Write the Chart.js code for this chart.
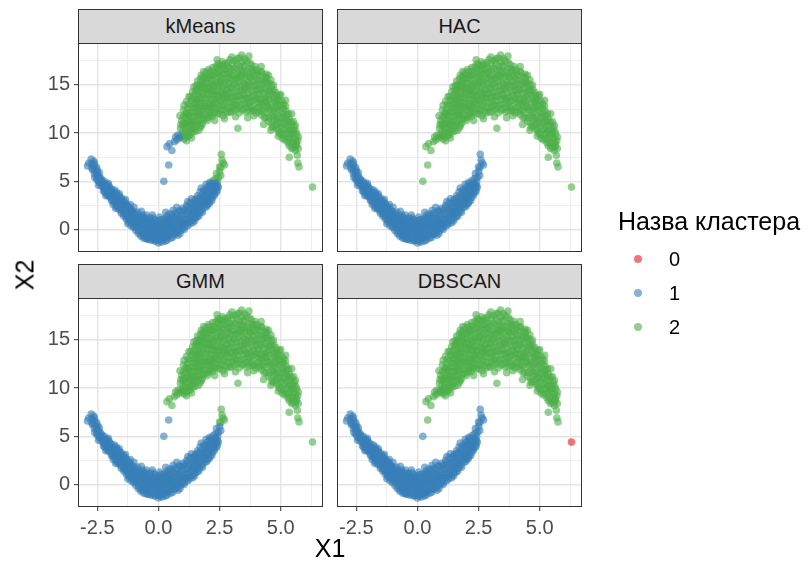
<!DOCTYPE html>
<html>
<head>
<meta charset="utf-8">
<script src="https://cdn.jsdelivr.net/npm/chart.js@4.4.0/dist/chart.umd.min.js"></script>
<style>
  html, body { margin:0; padding:0; background:#fff; }
  body { width:808px; height:564px; position:relative; overflow:hidden; font-family:"Liberation Sans", Arial, sans-serif; }
  canvas { position:absolute; left:0; top:0; }
  .strip { position:absolute; background:#d9d9d9; border:1px solid #333; box-sizing:border-box;
           color:#1a1a1a; font-size:20px; display:flex; align-items:center; justify-content:center; }
  .txt { position:absolute; line-height:1; white-space:nowrap; }
  .dot { position:absolute; width:8px; height:8px; border-radius:50%; transform:translate(-50%,-50%); }
</style>
</head>
<body>
<script>
// ---------------- DATA ----------------
const methodNames = ['kMeans', 'HAC', 'GMM', 'DBSCAN'];
const clusterNames = ['0', '1', '2'];

// lower moon (cluster 1 in every method)
const lowerMoon = [
  [-2.85,6.9],[-2.75,7.3],[-2.65,7.1],[-2.9,6.6],[-2.7,6.2],[-2.6,6.6],[-2.55,5.9],[-2.6,5.4],[-2.5,6.1],[-2.45,5.6],[-2.5,5.1],[-2.4,4.8],[-2.35,5.3],[-2.45,4.6],
  [-2.3,4.9],[-2.25,4.4],[-2.2,4.7],[-2.2,3.9],[-2.15,4.2],[-2.1,4.5],[-2.1,3.6],[-2.05,3.9],[-2.0,4.3],[-2.0,3.4],[-1.95,3.7],[-2.25,4.0],[-2.15,3.5],[-2.05,4.8],
  [-1.9,3.1],[-1.9,3.9],[-1.85,3.5],[-1.8,2.8],[-1.8,4.1],[-1.75,3.2],[-1.7,2.5],[-1.7,3.6],[-1.65,2.9],[-1.6,2.2],[-1.6,3.3],[-1.55,2.6],[-1.5,1.9],[-1.5,3.0],[-1.45,2.4],[-1.85,2.6],[-1.6,3.7],[-1.75,2.2],
  [-1.4,1.6],[-1.4,2.8],[-1.35,2.1],[-1.3,1.3],[-1.3,2.5],[-1.25,1.8],[-1.2,1.0],[-1.2,2.2],[-1.15,1.5],[-1.1,0.7],[-1.1,1.9],[-1.05,1.2],[-1.0,0.4],[-1.0,1.6],[-0.95,0.9],[-1.35,3.1],[-1.15,2.6],[-1.25,0.6],[-1.0,2.3],
  [-0.9,0.2],[-0.9,1.3],[-0.85,0.7],[-0.8,-0.2],[-0.8,1.0],[-0.75,0.4],[-0.7,-0.5],[-0.7,0.8],[-0.65,1.5],[-0.6,0.1],[-0.6,1.1],[-0.55,-0.6],[-0.55,0.5],[-0.5,-0.2],[-0.5,0.9],[-0.85,1.8],[-0.7,1.9],[-0.6,-0.9],[-0.5,1.5],
  [-0.45,0.2],[-0.4,-0.8],[-0.4,0.6],[-0.35,-0.3],[-0.35,1.2],[-0.3,0.1],[-0.3,-1.1],[-0.25,0.8],[-0.2,-0.5],[-0.2,0.4],[-0.15,-1.2],[-0.15,1.0],[-0.1,-0.1],[-0.1,-0.8],[-0.05,0.5],[0.0,-1.4],[0.0,0.1],[0.0,-0.5],[0.05,1.3],[0.05,-1.0],[-0.25,1.5],[-0.45,-1.0],
  [0.1,-0.2],[0.1,0.7],[0.15,-1.3],[0.15,-0.6],[0.2,0.3],[0.2,1.1],[0.25,-0.9],[0.25,0.0],[0.3,-0.4],[0.3,0.8],[0.35,-1.1],[0.35,1.4],[0.4,0.2],[0.4,-0.6],[0.45,0.6],[0.5,-0.2],[0.5,1.0],[0.5,-0.9],[0.3,1.8],[0.45,1.6],
  [0.55,0.3],[0.6,-0.5],[0.6,1.3],[0.65,0.1],[0.65,0.8],[0.7,-0.3],[0.7,1.7],[0.75,0.5],[0.8,-0.6],[0.8,1.1],[0.85,0.2],[0.85,1.9],[0.9,0.7],[0.9,-0.1],[0.95,1.4],[1.0,0.4],[1.0,2.2],[1.0,1.0],[0.75,2.3],[0.6,2.0],
  [1.05,0.0],[1.1,1.6],[1.1,0.7],[1.15,2.5],[1.2,0.4],[1.2,1.2],[1.25,2.0],[1.3,0.9],[1.3,2.8],[1.35,1.5],[1.4,0.7],[1.4,2.3],[1.45,1.9],[1.5,1.2],[1.5,3.1],[1.5,2.5],[1.2,2.9],[1.35,3.2],
  [1.55,1.6],[1.6,2.2],[1.6,3.5],[1.65,1.4],[1.65,2.8],[1.7,2.0],[1.7,3.9],[1.75,2.5],[1.8,3.2],[1.8,1.8],[1.85,2.9],[1.85,4.1],[1.9,2.3],[1.9,3.6],[1.95,3.0],[2.0,2.6],[2.0,4.4],[2.0,3.8],[1.75,4.3],[1.95,4.7],
  [2.05,3.2],[2.1,4.1],[2.1,2.9],[2.15,3.6],[2.15,4.8],[2.2,3.3],[2.2,4.4],[2.25,3.9],[2.3,4.3],[2.3,3.7],[2.35,4.8],[2.4,4.1],[2.4,4.6],[2.1,4.9],[2.45,4.4],
  [-2.72,6.4],[-2.72,6.8],[-2.62,5.8],[-2.62,6.3],[-2.62,6.9],[-2.52,5.3],[-2.52,5.8],[-2.52,6.4],[-2.42,4.9],[-2.42,5.4],[-2.42,5.9],[-2.32,4.5],[-2.32,5.1],
  [-2.22,4.2],[-2.22,4.6],[-2.22,5.0],[-2.12,3.8],[-2.12,4.3],[-2.12,4.7],[-2.02,3.5],[-2.02,4.0],[-2.02,4.5],[-1.92,3.0],[-1.92,3.4],[-1.92,3.8],[-1.92,4.2],
  [-1.82,2.9],[-1.82,3.3],[-1.82,3.8],[-1.72,2.4],[-1.72,2.9],[-1.72,3.4],[-1.72,3.9],[-1.62,2.1],[-1.62,2.6],[-1.62,3.0],[-1.62,3.5],[-1.52,1.7],[-1.52,2.2],[-1.52,2.7],[-1.52,3.3],
  [-1.42,1.4],[-1.42,1.9],[-1.42,2.5],[-1.42,3.0],[-1.32,1.1],[-1.32,1.6],[-1.32,2.1],[-1.32,2.7],[-1.22,0.8],[-1.22,1.3],[-1.22,1.9],[-1.22,2.4],[-1.12,0.4],[-1.12,1.0],[-1.12,1.6],[-1.12,2.1],
  [-1.02,0.2],[-1.02,0.8],[-1.02,1.4],[-1.02,1.9],[-0.92,-0.1],[-0.92,0.5],[-0.92,1.1],[-0.92,1.6],[-0.82,-0.4],[-0.82,0.3],[-0.82,0.9],[-0.82,1.4],[-0.72,-0.7],[-0.72,0.0],[-0.72,0.6],[-0.72,1.2],
  [-0.62,-0.6],[-0.62,-0.2],[-0.62,0.4],[-0.62,0.9],[-0.62,1.3],[-0.52,-0.9],[-0.52,-0.4],[-0.52,0.2],[-0.52,0.7],[-0.52,1.2],[-0.42,-1.0],[-0.42,-0.5],[-0.42,0.0],[-0.42,0.5],[-0.42,1.0],
  [-0.32,-0.8],[-0.32,-0.3],[-0.32,0.3],[-0.32,0.8],[-0.22,-1.0],[-0.22,-0.2],[-0.22,0.2],[-0.22,1.2],[-0.12,-1.1],[-0.12,-0.4],[-0.12,0.3],[-0.12,0.7],
  [-0.02,-1.1],[-0.02,-0.8],[-0.02,-0.2],[-0.02,0.4],[-0.02,0.9],[0.08,-1.2],[0.08,-0.4],[0.08,0.3],[0.08,1.0],[0.18,-0.9],[0.18,-0.1],[0.18,0.6],
  [0.28,-1.2],[0.28,-0.6],[0.28,0.4],[0.28,1.1],[0.38,-0.8],[0.38,0.0],[0.38,0.7],[0.38,1.1],[0.48,-0.5],[0.48,0.3],[0.48,1.3],[0.58,-0.8],[0.58,0.0],[0.58,0.6],[0.58,1.6],
  [0.68,-0.5],[0.68,0.3],[0.68,1.1],[0.78,-0.2],[0.78,0.8],[0.78,1.5],[0.88,-0.4],[0.88,0.5],[0.88,1.2],[0.88,2.0],[0.98,0.1],[0.98,0.7],[0.98,1.8],
  [1.08,0.3],[1.08,1.0],[1.08,2.0],[1.18,0.7],[1.18,1.6],[1.18,2.3],[1.28,0.6],[1.28,1.3],[1.28,2.2],[1.38,1.0],[1.38,1.8],[1.38,2.7],[1.48,0.9],[1.48,1.6],[1.48,2.1],[1.48,2.9],
  [1.58,1.3],[1.58,1.9],[1.58,2.7],[1.58,3.2],[1.68,1.7],[1.68,2.4],[1.68,3.3],[1.78,2.0],[1.78,2.8],[1.78,3.6],[1.88,2.6],[1.88,3.3],[1.88,4.0],[1.98,2.4],[1.98,3.3],[1.98,4.1],
  [2.08,2.7],[2.08,3.5],[2.08,4.5],[2.18,3.0],[2.18,3.9],[2.18,4.6],[2.28,3.5],[2.28,4.0],[2.28,4.7],[2.38,3.9],[2.38,4.4]
];

// upper moon (cluster 2 in every method)
const upperMoon = [
  [0.95,9.6],[1.0,10.3],[1.0,11.0],[1.05,9.4],[1.05,10.8],[1.1,11.6],[1.1,10.0],[1.15,12.2],[1.15,9.2],[1.2,10.6],[1.2,11.3],[1.2,12.6],[0.9,10.5],[0.95,11.3],[0.88,11.8],[1.05,12.9],[1.15,13.3],[1.25,13.8],
  [1.25,10.1],[1.25,11.8],[1.3,12.9],[1.3,10.9],[1.3,9.8],[1.35,11.5],[1.35,13.4],[1.4,12.2],[1.4,10.4],[1.45,13.0],[1.45,11.1],[1.5,12.6],[1.5,14.0],[1.5,10.6],[1.4,14.3],[1.35,9.5],[1.45,14.8],
  [1.55,11.8],[1.55,13.5],[1.6,10.9],[1.6,12.9],[1.6,14.6],[1.65,12.1],[1.65,13.9],[1.7,11.4],[1.7,13.2],[1.7,15.0],[1.75,12.5],[1.75,14.3],[1.8,11.0],[1.8,13.7],[1.8,15.3],[1.65,10.3],[1.75,10.8],[1.6,15.4],[1.75,16.0],[1.55,14.9],
  [1.85,12.0],[1.85,14.8],[1.9,13.1],[1.9,15.6],[1.9,11.5],[1.95,12.6],[1.95,14.2],[2.0,13.6],[2.0,15.2],[2.0,11.3],[2.05,12.4],[2.05,14.7],[2.1,13.0],[2.1,16.0],[2.1,11.8],[1.95,16.3],[2.05,16.6],[1.85,16.4],
  [2.15,12.3],[2.15,14.1],[2.2,15.5],[2.2,13.4],[2.2,11.7],[2.25,12.8],[2.25,14.8],[2.25,16.4],[2.3,13.9],[2.3,12.1],[2.35,15.2],[2.35,13.2],[2.35,16.9],[2.4,14.4],[2.4,12.5],[2.45,15.8],[2.45,13.7],[2.5,12.0],[2.5,14.9],[2.5,16.5],[2.4,17.6],[2.3,11.3],[2.45,17.2],
  [2.55,13.1],[2.55,15.4],[2.6,12.4],[2.6,14.2],[2.6,16.2],[2.65,13.6],[2.65,17.0],[2.65,11.8],[2.7,15.0],[2.7,12.9],[2.75,14.5],[2.75,16.6],[2.8,13.3],[2.8,12.1],[2.8,15.7],[2.85,14.0],[2.85,17.3],[2.9,12.6],[2.9,15.2],[2.9,16.3],[2.95,13.7],[2.95,14.7],[3.0,12.2],[3.0,16.0],[3.0,17.9],[2.7,11.5],
  [3.05,13.2],[3.05,15.0],[3.1,14.2],[3.1,16.7],[3.1,12.4],[3.15,13.8],[3.15,15.6],[3.2,12.9],[3.2,17.2],[3.2,14.8],[3.25,16.1],[3.25,13.4],[3.3,12.1],[3.3,15.3],[3.3,17.8],[3.35,14.5],[3.35,16.5],[3.4,13.0],[3.4,15.9],[3.45,14.0],[3.45,17.0],[3.5,12.5],[3.5,15.1],[3.5,16.3],[3.25,10.5],[3.4,18.1],[3.15,11.7],
  [3.55,13.6],[3.55,14.7],[3.6,12.2],[3.6,16.0],[3.6,17.5],[3.65,13.2],[3.65,15.3],[3.7,14.2],[3.7,16.7],[3.7,18.0],[3.75,12.7],[3.75,15.8],[3.8,13.8],[3.8,14.9],[3.8,17.1],[3.85,12.3],[3.85,16.3],[3.9,13.4],[3.9,15.4],[3.95,14.4],[3.95,16.9],[4.0,12.1],[4.0,15.0],[4.0,13.2],[3.65,11.6],[3.9,11.8],
  [4.05,14.0],[4.05,16.2],[4.1,12.7],[4.1,15.5],[4.15,13.5],[4.15,14.6],[4.2,11.9],[4.2,16.4],[4.25,13.0],[4.25,15.1],[4.3,14.1],[4.3,12.3],[4.35,15.8],[4.35,13.6],[4.4,11.6],[4.4,14.6],[4.2,16.9],[4.3,10.9],[4.4,16.1],
  [4.45,12.8],[4.45,15.1],[4.5,13.9],[4.5,11.2],[4.55,14.5],[4.55,12.4],[4.6,15.5],[4.6,13.2],[4.65,10.6],[4.65,14.0],[4.7,12.0],[4.7,15.0],[4.75,13.3],[4.75,11.3],[4.6,10.3],[4.5,16.0],
  [4.8,12.7],[4.8,14.2],[4.85,10.4],[4.85,13.5],[4.9,11.6],[4.9,12.9],[4.95,13.9],[4.95,10.0],[5.0,12.2],[5.0,11.0],[5.05,13.3],[5.05,9.5],[4.9,9.7],[5.0,14.0],
  [5.1,11.7],[5.1,12.6],[5.15,10.4],[5.15,9.3],[5.2,11.2],[5.2,12.8],[5.25,10.0],[5.25,11.9],[5.3,9.0],[5.3,10.8],[5.35,11.5],[5.35,8.7],
  [5.4,10.3],[5.4,9.6],[5.45,11.1],[5.45,8.4],[5.5,10.0],[5.5,9.0],[5.55,10.6],[5.6,9.4],[5.6,8.2],[5.65,9.9],[5.65,8.8],[5.7,9.2],[5.35,7.5],[5.7,6.9],[5.75,6.5],[5.6,10.8],[5.2,13.4],[5.45,12.0],
  [0.92,9.8],[0.92,10.9],[1.02,9.8],[1.02,11.7],[1.02,12.4],[1.12,9.6],[1.12,10.4],[1.12,11.0],[1.12,12.0],[1.22,9.7],[1.22,11.0],[1.22,12.0],[1.22,13.0],
  [1.32,10.3],[1.32,11.2],[1.32,12.2],[1.32,13.8],[1.42,10.1],[1.42,10.8],[1.42,11.7],[1.42,12.6],[1.42,13.6],[1.52,10.2],[1.52,11.3],[1.52,12.2],[1.52,13.2],[1.52,14.4],
  [1.62,11.2],[1.62,11.9],[1.62,12.6],[1.62,13.5],[1.62,14.2],[1.62,15.0],[1.72,10.6],[1.72,11.8],[1.72,12.8],[1.72,13.6],[1.72,14.7],[1.72,15.6],
  [1.82,11.4],[1.82,12.3],[1.82,13.0],[1.82,14.1],[1.82,15.0],[1.82,15.8],[1.92,11.9],[1.92,12.8],[1.92,13.6],[1.92,14.5],[1.92,15.2],[1.92,16.0],
  [2.02,11.6],[2.02,12.8],[2.02,14.0],[2.02,14.6],[2.02,15.7],[2.12,12.0],[2.12,12.7],[2.12,13.5],[2.12,14.4],[2.12,15.1],[2.12,15.8],[2.12,16.4],
  [2.22,12.1],[2.22,13.0],[2.22,14.0],[2.22,14.5],[2.22,15.0],[2.22,16.0],[2.22,16.8],[2.32,12.6],[2.32,13.5],[2.32,14.3],[2.32,15.6],[2.32,16.2],
  [2.42,12.0],[2.42,13.0],[2.42,13.9],[2.42,15.0],[2.42,16.2],[2.42,16.8],[2.52,12.4],[2.52,13.4],[2.52,14.3],[2.52,15.2],[2.52,15.9],[2.52,17.0],
  [2.62,12.9],[2.62,13.9],[2.62,14.7],[2.62,15.6],[2.62,16.6],[2.62,17.4],[2.72,12.3],[2.72,13.7],[2.72,14.1],[2.72,15.4],[2.72,16.2],[2.72,17.2],
  [2.82,12.7],[2.82,13.6],[2.82,14.5],[2.82,15.1],[2.82,16.1],[2.82,16.9],[2.92,12.2],[2.92,13.2],[2.92,14.2],[2.92,15.7],[2.92,16.7],[2.92,17.6],
  [3.02,12.7],[3.02,13.8],[3.02,14.6],[3.02,15.5],[3.02,16.5],[3.02,17.2],[3.12,13.0],[3.12,13.4],[3.12,15.1],[3.12,15.9],[3.12,17.5],
  [3.22,12.5],[3.22,13.9],[3.22,14.3],[3.22,15.7],[3.22,16.6],[3.22,17.7],[3.32,12.8],[3.32,13.8],[3.32,14.9],[3.32,16.0],[3.32,16.9],
  [3.42,12.4],[3.42,13.5],[3.42,14.4],[3.42,15.4],[3.42,16.2],[3.42,17.4],[3.52,13.0],[3.52,13.9],[3.52,14.6],[3.52,15.7],[3.52,16.9],[3.52,17.7],
  [3.62,12.7],[3.62,13.6],[3.62,14.5],[3.62,15.0],[3.62,16.4],[3.72,12.3],[3.72,13.1],[3.72,13.7],[3.72,15.1],[3.72,15.9],[3.72,17.3],
  [3.82,12.6],[3.82,13.3],[3.82,14.4],[3.82,15.7],[3.82,16.6],[3.92,12.4],[3.92,13.9],[3.92,14.9],[3.92,16.0],[3.92,16.5],
  [4.02,12.6],[4.02,13.6],[4.02,14.5],[4.02,15.6],[4.02,16.6],[4.12,12.2],[4.12,13.1],[4.12,14.0],[4.12,15.0],[4.12,16.0],
  [4.22,12.4],[4.22,13.5],[4.22,14.4],[4.22,15.5],[4.22,16.3],[4.32,11.6],[4.32,12.8],[4.32,13.2],[4.32,14.6],[4.32,15.3],
  [4.42,12.2],[4.42,13.2],[4.42,13.8],[4.42,15.3],[4.42,15.8],[4.52,11.6],[4.52,12.6],[4.52,13.5],[4.52,14.3],[4.52,15.2],
  [4.62,11.0],[4.62,11.8],[4.62,12.7],[4.62,14.4],[4.62,14.9],[4.72,10.7],[4.72,11.7],[4.72,12.5],[4.72,13.7],[4.72,14.5],
  [4.82,10.9],[4.82,11.5],[4.82,12.2],[4.82,13.1],[4.82,13.9],[4.92,10.3],[4.92,11.1],[4.92,12.4],[4.92,13.4],
  [5.02,9.9],[5.02,10.6],[5.02,11.6],[5.02,12.8],[5.12,9.8],[5.12,11.0],[5.12,12.0],[5.12,13.0],[5.22,9.4],[5.22,10.5],[5.22,11.5],[5.22,12.3],
  [5.32,9.5],[5.32,10.2],[5.32,11.2],[5.32,12.0],[5.42,8.9],[5.42,9.9],[5.42,10.8],[5.52,8.5],[5.52,9.5],[5.52,10.3],[5.52,11.2],
  [5.62,8.6],[5.62,9.0],[5.62,10.2],[5.72,8.4],[5.72,9.6],[5.68,7.7]
];

// points whose cluster differs between methods
const tipHigh   = [[2.57,7.8],[2.7,6.7],[2.6,7.2],[2.5,6.5],[2.65,6.9],[2.55,6.4]];
const tipLow    = [[2.37,5.8],[2.42,5.0],[2.45,5.4],[2.5,6.0],[2.35,5.3],[2.25,5.1],[2.55,5.6]];
const foot      = [[0.35,8.6],[0.45,8.9],[0.55,8.2],[0.65,9.1],[0.7,9.6],[0.8,9.8],[0.75,9.3],[0.85,9.5]];
const bridgeMid = [[0.42,6.7]];
const bridgeLow = [[0.22,5.0]];
const outlier   = [[6.3,4.4]];

const groupNames = ['lowerMoon','upperMoon','tipHigh','tipLow','foot','bridgeMid','bridgeLow','outlier'];
const groups     = [lowerMoon, upperMoon, tipHigh, tipLow, foot, bridgeMid, bridgeLow, outlier];
const kMeansLabels = [1, 2, 2, 2, 1, 1, 1, 2];
const hacLabels    = [1, 2, 1, 1, 2, 2, 2, 2];
const gmmLabels    = [1, 2, 2, 1, 2, 1, 1, 2];
const dbscanLabels = [1, 2, 1, 1, 2, 2, 1, 0];
const methodLabels = [kMeansLabels, hacLabels, gmmLabels, dbscanLabels];

const xMajorTicks = [-2.5, 0, 2.5, 5];
const xTickLabels = ['-2.5', '0.0', '2.5', '5.0'];
const xMinorTicks = [-1.25, 1.25, 3.75, 6.25];
const yMajorTicks = [0, 5, 10, 15];
const yTickLabels = ['0', '5', '10', '15'];
const yMinorTicks = [2.5, 7.5, 12.5, 17.5];
const xLimits = [-3.29, 6.73];
const yLimits = [-2.33, 19.35];

// ---------------- STYLE / LAYOUT ----------------
const W = 808, H = 564;
const FONT = '"Liberation Sans", Arial, sans-serif';
const clusterColors = ['rgba(228,26,28,0.6)', 'rgba(55,126,184,0.6)', 'rgba(77,175,74,0.6)'];
const panelBoxes = [
  {left:78,  top:43,  right:323, bottom:252},
  {left:337, top:43,  right:582, bottom:252},
  {left:78,  top:298, right:323, bottom:507},
  {left:337, top:298, right:582, bottom:507}
];

const borderPlugin = {
  id: 'panelBorder',
  afterDraw(chart) {
    const a = chart.chartArea, c = chart.ctx;
    c.save();
    c.strokeStyle = '#333333';
    c.lineWidth = 1;
    c.strokeRect(Math.round(a.left) + 0.5, Math.round(a.top) + 0.5, Math.round(a.right - a.left) - 1, Math.round(a.bottom - a.top) - 1);
    c.restore();
  }
};

function makeScale(axis, major, labels, minor, limits, showLabels, size) {
  const all = major.concat(minor).sort((a, b) => a - b);
  const isMajor = v => major.indexOf(v) >= 0;
  return {
    type: 'linear',
    position: axis === 'x' ? 'bottom' : 'left',
    min: limits[0], max: limits[1],
    afterBuildTicks: s => { s.ticks = all.map(v => ({ value: v })); },
    afterFit: s => { if (axis === 'x') s.height = size; else s.width = size; },
    ticks: {
      display: showLabels,
      autoSkip: false, maxRotation: 0, minRotation: 0,
      padding: axis === 'x' ? 5 : 4,
      color: '#4d4d4d',
      font: { family: FONT, size: 20 },
      callback: v => { const i = major.indexOf(v); return i >= 0 ? labels[i] : ''; }
    },
    grid: {
      color: ctx => (ctx.tick && isMajor(ctx.tick.value)) ? '#e4e4e4' : '#eeeeee',
      lineWidth: ctx => (ctx.tick && isMajor(ctx.tick.value)) ? 1.4 : 1,
      drawTicks: showLabels,
      tickLength: 4,
      tickWidth: 1,
      tickColor: ctx => (ctx.tick && isMajor(ctx.tick.value)) ? '#333333' : 'rgba(0,0,0,0)'
    },
    border: { display: false }
  };
}

methodNames.forEach((name, m) => {
  const box = panelBoxes[m];
  const showX = m >= 2, showY = m % 2 === 0;
  const yw = showY ? box.left : 8;
  const xh = showX ? 40 : 0;

  const datasets = [1, 2, 0].map(c => {
    const pts = [];
    groups.forEach((g, gi) => { if (methodLabels[m][gi] === c) g.forEach(p => pts.push({ x: p[0], y: p[1] })); });
    return {
      label: clusterNames[c], data: pts,
      backgroundColor: clusterColors[c], borderWidth: 0,
      pointRadius: 3.8, pointHoverRadius: 3.8
    };
  });

  const cv = document.createElement('canvas');
  cv.width = W; cv.height = H;
  document.body.appendChild(cv);
  new Chart(cv, {
    type: 'scatter',
    data: { datasets },
    options: {
      responsive: false, animation: false, devicePixelRatio: 1,
      layout: { padding: { left: box.left - yw, top: box.top, right: W - box.right, bottom: H - box.bottom - xh } },
      plugins: { legend: { display: false }, tooltip: { enabled: false } },
      scales: {
        x: makeScale('x', xMajorTicks, xTickLabels, xMinorTicks, xLimits, showX, xh),
        y: makeScale('y', yMajorTicks, yTickLabels, yMinorTicks, yLimits, showY, yw)
      }
    },
    plugins: [borderPlugin]
  });

  const s = document.createElement('div');
  s.className = 'strip';
  s.style.left = box.left + 'px';
  s.style.top = (box.top - 34) + 'px';
  s.style.width = (box.right - box.left) + 'px';
  s.style.height = '35px';
  s.textContent = name;
  document.body.appendChild(s);
});

// axis titles
function addText(txt, x, y, size, color, extra) {
  const d = document.createElement('div');
  d.className = 'txt';
  d.textContent = txt;
  d.style.left = x + 'px'; d.style.top = y + 'px';
  d.style.fontSize = size + 'px'; d.style.color = color;
  d.style.transform = extra || 'translate(-50%,-50%)';
  document.body.appendChild(d);
  return d;
}
addText('X1', 330, 548, 25, '#000');
addText('X2', 25, 275, 25, '#000', 'translate(-50%,-50%) rotate(-90deg)');

// legend
addText('Назва кластера', 618, 221, 25, '#000', 'translate(0,-50%)');
const legendY = [259, 293, 327];
[0, 1, 2].forEach((c, i) => {
  const d = document.createElement('div');
  d.className = 'dot';
  d.style.left = '638px'; d.style.top = legendY[i] + 'px';
  d.style.background = clusterColors[c];
  document.body.appendChild(d);
  addText(clusterNames[c], 669, legendY[i], 20, '#000', 'translate(0,-50%)');
});
</script>
</body>
</html>
